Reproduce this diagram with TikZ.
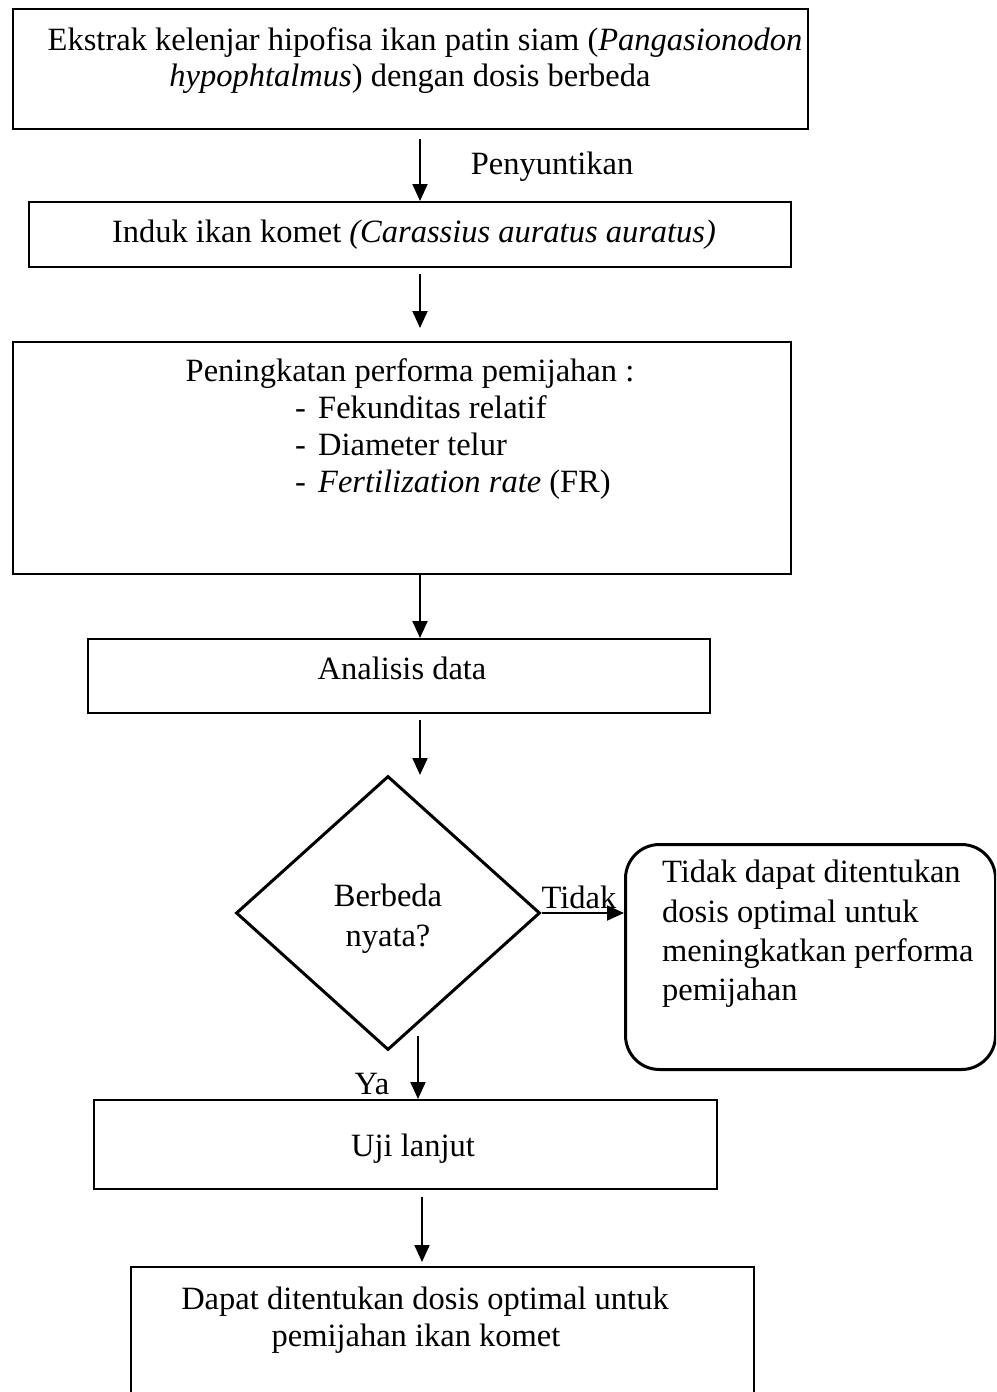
\documentclass[tikz,border=0pt]{standalone}
\usepackage{fontspec}
\setmainfont{Liberation Serif}
\usetikzlibrary{arrows.meta,shapes.geometric}
\begin{document}
\begin{tikzpicture}[x=1pt,y=-1pt,
  every node/.style={font=\fontsize{32.5}{38}\selectfont},
  box/.style={draw,line width=2pt,rectangle,anchor=north west,inner sep=0pt},
  rbox/.style={draw,line width=3pt,rounded corners=34pt,rectangle,anchor=north west,inner sep=0pt},
  dec/.style={draw,line width=3pt,diamond,inner sep=0pt,minimum width=304pt,minimum height=274pt},
  txt/.style={inner sep=0pt,align=center},
  arr/.style={line width=2pt,-{Triangle[width=15pt,length=17pt]}}]
\useasboundingbox (0,0) rectangle (996,1392);
\clip (0,0) rectangle (996,1392);
% boxes
\node[box,minimum width=795pt,minimum height=120pt] (b1) at (12,8) {};
\node[box,minimum width=762pt,minimum height=65pt] (b2) at (28,201) {};
\node[box,minimum width=778pt,minimum height=232pt] (b3) at (12,341) {};
\node[box,minimum width=622pt,minimum height=74pt] (b4) at (87,638) {};
\node[dec] (d) at (388,913) {};
\node[rbox,minimum width=370pt,minimum height=225pt] (r) at (624,843) {};
\node[box,minimum width=623pt,minimum height=89pt] (b5) at (93,1099) {};
\node[box,minimum width=623pt,minimum height=140pt] (b6) at (130,1266) {};
% texts
\node[txt,anchor=base] (t1) at (425,50) {Ekstrak kelenjar hipofisa ikan patin siam (\textit{Pangasionodon}};
\node[txt,anchor=base] (t1b) at (410,86) {\textit{hypophtalmus}) dengan dosis berbeda};
\node[txt,anchor=base] (t2) at (414,242) {Induk ikan komet \textit{(Carassius auratus auratus)}};
\node[txt,anchor=base] (t3) at (410,381) {Peningkatan performa pemijahan :};
\node[txt,anchor=base west] (l1m) at (295,418) {-};
\node[txt,anchor=base west] (l1) at (318,418) {Fekunditas relatif};
\node[txt,anchor=base west] (l2m) at (295,455) {-};
\node[txt,anchor=base west] (l2) at (318,455) {Diameter telur};
\node[txt,anchor=base west] (l3m) at (295,492) {-};
\node[txt,anchor=base west] (l3) at (318,492) {\textit{Fertilization rate} (FR)};
\node[txt,anchor=base] (t4) at (402,679) {Analisis data};
\node[txt,anchor=base] (td1) at (388,906) {Berbeda};
\node[txt,anchor=base] (td2) at (388,946) {nyata?};
\node[txt,anchor=base west] (tr1) at (662,882) {Tidak dapat ditentukan};
\node[txt,anchor=base west] (tr2) at (662,922) {dosis optimal untuk};
\node[txt,anchor=base west] (tr3) at (662,961) {meningkatkan performa};
\node[txt,anchor=base west] (tr4) at (662,1000) {pemijahan};
\node[txt,anchor=base] (t5) at (413,1156) {Uji lanjut};
\node[txt,anchor=base] (t6) at (425,1309) {Dapat ditentukan dosis optimal untuk};
\node[txt,anchor=base] (t6b) at (416,1346) {pemijahan ikan komet};
% labels
\node[txt,anchor=base] (lp) at (552,174) {Penyuntikan};
\node[txt,anchor=base] (lt) at (579,908) {Tidak};
\node[txt,anchor=base] (ly) at (372,1094) {Ya};
% connectors
\draw[arr,shorten <=9pt] (b1.south -| 420,0) -- (b2.north -| 420,0);
\draw[arr,shorten <=6pt,shorten >=13pt] (b2.south -| 420,0) -- (b3.north -| 420,0);
\draw[arr] (b3.south -| 420,0) -- (b4.north -| 420,0);
\draw[arr,shorten <=6pt] (b4.south -| 420,0) -- (420,775);
\draw[arr] (d.east) -- (r.west |- d.east);
\draw[arr] (418,1036) -- (b5.north -| 418,0);
\draw[arr,shorten <=7pt,shorten >=4pt] (b5.south -| 422,0) -- (b6.north -| 422,0);
\end{tikzpicture}
\end{document}
